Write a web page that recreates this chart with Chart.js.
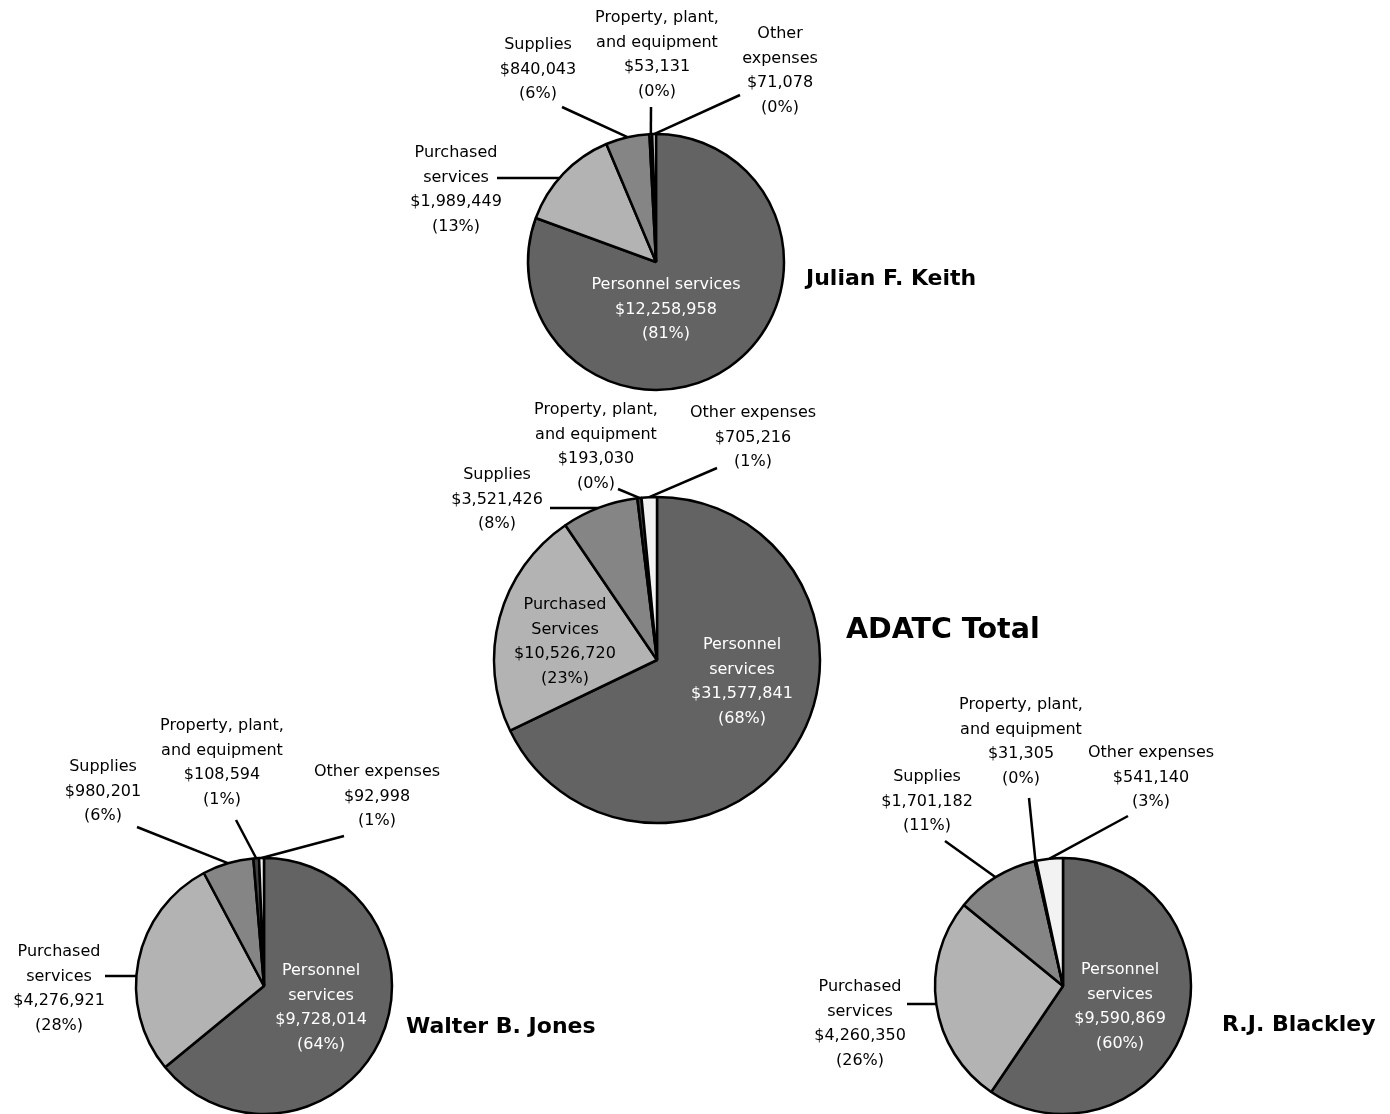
<!DOCTYPE html>
<html>
<head>
<meta charset="utf-8">
<script src="https://cdn.jsdelivr.net/npm/chart.js@4.4.1/dist/chart.umd.min.js"></script>
<style>
  html, body { margin: 0; padding: 0; background: #fff; }
  body { width: 1390px; height: 1114px; overflow: hidden; position: relative; }
  canvas.pie { position: absolute; left: 0; top: 0; }
</style>
</head>
<body>
<canvas class="pie" id="keith"></canvas>
<canvas class="pie" id="total"></canvas>
<canvas class="pie" id="jones"></canvas>
<canvas class="pie" id="blackley"></canvas>
<script>
// categories, same order in every pie (clockwise from 12 o'clock)
const categories = ['Personnel services', 'Purchased services', 'Supplies', 'Property, plant, and equipment', 'Other expenses'];

// Julian F. Keith
const keithValues = [12258958, 1989449, 840043, 53131, 71078];
const keithPercents = [81, 13, 6, 0, 0];
const keithNames = [['Personnel services'], ['Purchased', 'services'], ['Supplies'], ['Property, plant,', 'and equipment'], ['Other', 'expenses']];

// ADATC Total
const totalValues = [31577841, 10526720, 3521426, 193030, 705216];
const totalPercents = [68, 23, 8, 0, 1];
const totalNames = [['Personnel', 'services'], ['Purchased', 'Services'], ['Supplies'], ['Property, plant,', 'and equipment'], ['Other expenses']];

// Walter B. Jones
const jonesValues = [9728014, 4276921, 980201, 108594, 92998];
const jonesPercents = [64, 28, 6, 1, 1];
const jonesNames = [['Personnel', 'services'], ['Purchased', 'services'], ['Supplies'], ['Property, plant,', 'and equipment'], ['Other expenses']];

// R.J. Blackley
const blackleyValues = [9590869, 4260350, 1701182, 31305, 541140];
const blackleyPercents = [60, 26, 11, 0, 3];
const blackleyNames = [['Personnel', 'services'], ['Purchased', 'services'], ['Supplies'], ['Property, plant,', 'and equipment'], ['Other expenses']];

const sliceColors = ['#636363', '#b3b3b3', '#858585', '#404040', '#f2f2f2'];

const PAGE_W = 1390, CANVAS_H = 1200;
const FONT = '"DejaVu Sans", sans-serif';
const LINE_H = 24.6;

// placement of each pie, its title and labels (page pixels)
const layouts = {
    keith: {
        cx: 656, cy: 262, r: 128,
        title: { text: 'Julian F. Keith', x: 806, y: 279, size: 22 },
        labels: [
            { x: 666, y: 285, color: '#fff' },
            { x: 456, y: 153, from: [497, 178], leader: 'h' },
            { x: 538, y: 45, from: [562, 107] },
            { x: 657, y: 18, from: [651, 107] },
            { x: 780, y: 34, from: [740, 95] }
        ]
    },
    total: {
        cx: 657, cy: 660, r: 163,
        title: { text: 'ADATC Total', x: 846, y: 631, size: 28.5 },
        labels: [
            { x: 742, y: 645, color: '#fff' },
            { x: 565, y: 605 },
            { x: 497, y: 475, from: [550, 508], leader: 'h' },
            { x: 596, y: 410, from: [618, 489] },
            { x: 753, y: 413, from: [717, 468] }
        ]
    },
    jones: {
        cx: 264, cy: 986, r: 128,
        title: { text: 'Walter B. Jones', x: 406, y: 1027, size: 22 },
        labels: [
            { x: 321, y: 971, color: '#fff' },
            { x: 59, y: 952, from: [105, 976], leader: 'h' },
            { x: 103, y: 767, from: [137, 827] },
            { x: 222, y: 726, from: [236, 820] },
            { x: 377, y: 772, from: [344, 836] }
        ]
    },
    blackley: {
        cx: 1063, cy: 986, r: 128,
        title: { text: 'R.J. Blackley', x: 1222, y: 1025, size: 22 },
        labels: [
            { x: 1120, y: 970, color: '#fff' },
            { x: 860, y: 987, from: [907, 1004], leader: 'h' },
            { x: 927, y: 777, from: [945, 841] },
            { x: 1021, y: 705, from: [1029, 798] },
            { x: 1151, y: 753, from: [1128, 816] }
        ]
    }
};

function money(v) {
    return '$' + v.toLocaleString('en-US');
}

// draws leader lines, slice labels and the pie title
function labelPlugin(lay, names, values, percents) {
    return {
        id: 'sliceLabels',
        afterDraw(chart) {
            const ctx = chart.ctx;
            const arcs = chart.getDatasetMeta(0).data;
            ctx.save();

            // leader lines
            ctx.strokeStyle = '#000';
            ctx.lineWidth = 2.5;
            lay.labels.forEach((lab, i) => {
                if (!lab.from) return;
                const arc = arcs[i];
                const r = arc.outerRadius;
                let ex, ey;
                if (lab.leader === 'h') {
                    ey = lab.from[1];
                    const dy = ey - arc.y;
                    const dx = Math.sqrt(Math.max(r * r - dy * dy, 0));
                    ex = lab.from[0] < arc.x ? arc.x - dx : arc.x + dx;
                } else {
                    const mid = (arc.startAngle + arc.endAngle) / 2;
                    ex = arc.x + Math.cos(mid) * r;
                    ey = arc.y + Math.sin(mid) * r;
                }
                ctx.beginPath();
                ctx.moveTo(lab.from[0], lab.from[1]);
                ctx.lineTo(ex, ey);
                ctx.stroke();
            });

            // label texts
            ctx.font = '16px ' + FONT;
            ctx.textAlign = 'center';
            ctx.textBaseline = 'middle';
            lay.labels.forEach((lab, i) => {
                const lines = names[i].concat([money(values[i]), '(' + percents[i] + '%)']);
                ctx.fillStyle = lab.color || '#000';
                lines.forEach((t, k) => ctx.fillText(t, lab.x, lab.y + k * LINE_H));
            });

            // title
            ctx.font = 'bold ' + lay.title.size + 'px ' + FONT;
            ctx.textAlign = 'left';
            ctx.fillStyle = '#000';
            ctx.fillText(lay.title.text, lay.title.x, lay.title.y);
            ctx.restore();
        }
    };
}

function makePie(id, names, values, percents) {
    const lay = layouts[id];
    const half = lay.r + 4;
    const canvas = document.getElementById(id);
    canvas.width = PAGE_W;
    canvas.height = CANVAS_H;
    canvas.style.width = PAGE_W + 'px';
    canvas.style.height = CANVAS_H + 'px';

    new Chart(canvas, {
        type: 'pie',
        data: {
            labels: categories,
            datasets: [{
                data: values,
                backgroundColor: sliceColors,
                borderColor: '#000',
                borderWidth: 2.5,
                hoverBorderWidth: 2.5,
                hoverOffset: 0,
                offset: 0,
                radius: lay.r
            }]
        },
        options: {
            responsive: false,
            animation: false,
            events: [],
            layout: {
                padding: {
                    left: lay.cx - half,
                    top: lay.cy - half,
                    right: PAGE_W - lay.cx - half,
                    bottom: CANVAS_H - lay.cy - half
                }
            },
            plugins: {
                legend: { display: false },
                title: { display: false },
                tooltip: { enabled: false }
            }
        },
        plugins: [labelPlugin(lay, names, values, percents)]
    });
}

makePie('keith', keithNames, keithValues, keithPercents);
makePie('total', totalNames, totalValues, totalPercents);
makePie('jones', jonesNames, jonesValues, jonesPercents);
makePie('blackley', blackleyNames, blackleyValues, blackleyPercents);
</script>
</body>
</html>
